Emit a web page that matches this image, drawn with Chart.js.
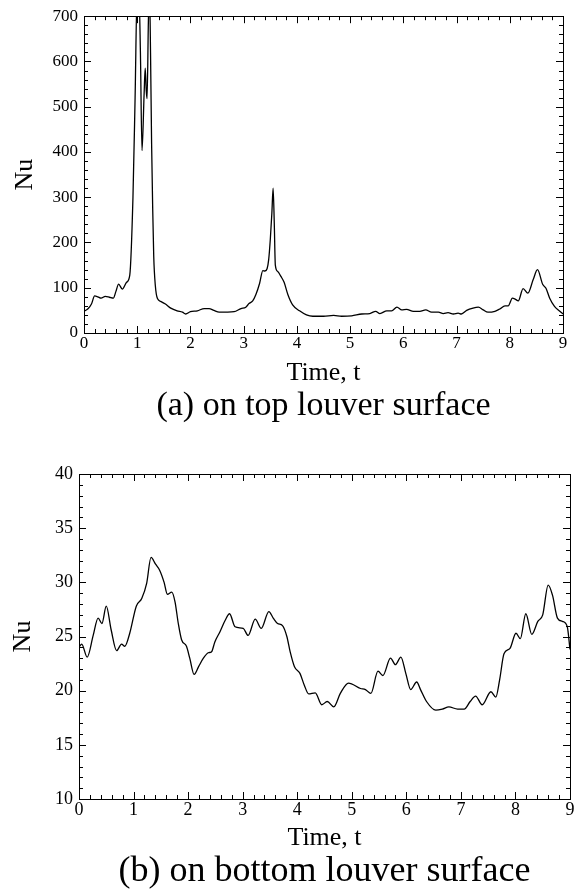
<!DOCTYPE html>
<html>
<head>
<meta charset="utf-8">
<script src="https://cdn.jsdelivr.net/npm/chart.js@4.4.1/dist/chart.umd.min.js"></script>
<style>
  body { margin: 0; background: #fff; }
  canvas { display: block; }
</style>
</head>
<body>
<canvas id="chartTop" width="577" height="440"></canvas>
<canvas id="chartBottom" width="577" height="451"></canvas>
<script>
// (a) top louver surface: time t and Nusselt number
const timeTop = [
  0, 0.08, 0.14, 0.2, 0.26, 0.32, 0.4, 0.48, 0.55, 0.6, 0.65, 0.72, 0.8, 0.86,
  0.92, 0.96, 1.0, 1.03, 1.06, 1.09, 1.13, 1.15, 1.17, 1.185, 1.21, 1.23, 1.25,
  1.27, 1.29, 1.31, 1.34, 1.38, 1.44, 1.53, 1.63, 1.75, 1.85, 1.91, 2.0, 2.13,
  2.26, 2.35, 2.44, 2.54, 2.7, 2.82, 2.95, 3.04, 3.1, 3.17, 3.23, 3.3, 3.36,
  3.4, 3.44, 3.47, 3.5, 3.53, 3.553, 3.575, 3.595, 3.64, 3.7, 3.76, 3.83, 3.92,
  4.05, 4.18, 4.3, 4.5, 4.69, 4.84, 5.03, 5.22, 5.37, 5.48, 5.56, 5.69, 5.78,
  5.88, 5.97, 6.06, 6.19, 6.31, 6.42, 6.53, 6.66, 6.75, 6.84, 6.94, 7.03, 7.09,
  7.19, 7.31, 7.41, 7.5, 7.59, 7.72, 7.81, 7.91, 7.97, 8.05, 8.1, 8.16, 8.25,
  8.34, 8.44, 8.52, 8.62, 8.68, 8.75, 8.84, 8.94, 9.0
]
const nuTop = [
  48, 54, 64, 82, 80, 77, 81, 79, 77, 92, 108, 97, 112, 128,
  300, 520, 760, 760, 620, 403, 530, 585, 535, 518, 690, 760, 620,
  420, 280, 170, 105, 76, 70, 64, 55, 49, 46, 42, 47, 49,
  54, 54, 50, 46, 46, 47, 54, 57, 65, 71, 85, 110, 138,
  137, 142, 162, 206, 265, 320, 243, 150, 136, 125, 112, 85, 62,
  49, 40, 37, 37, 39, 37, 38, 42, 43, 48, 43, 49, 49,
  57, 51, 52, 48, 48, 51, 46, 46, 43, 45, 42, 44, 42,
  50, 55, 57, 51, 46, 48, 53, 60, 60, 77, 75, 71, 98,
  88, 118, 140, 107, 99, 77, 59, 48, 42
]

// (b) bottom louver surface
const timeBottom = [
  0, 0.05, 0.15, 0.26, 0.35, 0.42, 0.5, 0.59, 0.69, 0.78, 0.84, 0.93, 1.05,
  1.15, 1.24, 1.32, 1.4, 1.48, 1.56, 1.62, 1.7, 1.76, 1.82, 1.88, 1.97, 2.03,
  2.11, 2.19, 2.28, 2.37, 2.43, 2.49, 2.58, 2.68, 2.76, 2.86, 3.01, 3.1, 3.23,
  3.34, 3.48, 3.56, 3.64, 3.73, 3.81, 3.87, 3.95, 4.05, 4.13, 4.21, 4.33, 4.45,
  4.55, 4.67, 4.79, 4.94, 5.16, 5.25, 5.35, 5.48, 5.57, 5.71, 5.8, 5.9, 5.99,
  6.08, 6.19, 6.26, 6.37, 6.54, 6.66, 6.78, 6.94, 7.06, 7.17, 7.27, 7.39, 7.55,
  7.64, 7.71, 7.79, 7.9, 8.01, 8.09, 8.19, 8.3, 8.41, 8.5, 8.6, 8.68, 8.77,
  8.86, 8.95, 9.0
]
const nuBottom = [
  24.0, 24.3, 23.1, 25.1, 26.7, 26.2, 27.8, 25.6, 23.7, 24.3, 24.1, 25.3, 27.8,
  28.5, 29.9, 32.3, 31.7, 31.1, 30.0, 28.9, 29.1, 28.2, 26.2, 24.7, 24.1, 23.0,
  21.5, 22.2, 23.0, 23.5, 23.6, 24.5, 25.4, 26.5, 27.1, 25.9, 25.75, 25.1, 26.6,
  25.75, 27.3, 26.7, 26.2, 26.0, 25.0, 23.6, 22.2, 21.6, 20.5, 19.7, 19.8, 18.7,
  19.0, 18.5, 19.75, 20.7, 20.2, 20.1, 19.75, 21.8, 21.4, 23.0, 22.4, 23.1, 21.6,
  20.1, 20.8, 20.1, 19.0, 18.2, 18.3, 18.5, 18.3, 18.3, 19.0, 19.5, 18.7, 19.9,
  19.4, 21.0, 23.4, 23.9, 25.3, 24.8, 27.1, 25.2, 26.4, 27.0, 29.75, 28.8, 26.7,
  26.4, 25.9, 23.8
]

// major tick values (labelled); minor ticks split each interval
const timeTicks = [0, 1, 2, 3, 4, 5, 6, 7, 8, 9]
const nuTicksTop = [0, 100, 200, 300, 400, 500, 600, 700]
const nuTicksBottom = [10, 15, 20, 25, 30, 35, 40]

const serif = "'Liberation Serif', 'Times New Roman', serif"

// inward ticks on all four sides plus the frame, like the original plot
const frameTicks = {
  id: 'frameTicks',
  afterDatasetsDraw (chart, args, opts) {
    const { ctx, chartArea: a, scales: { x, y } } = chart
    const major = 7
    const minor = 4
    const snap = v => Math.round(v) + 0.5
    ctx.save()
    ctx.strokeStyle = '#000'
    ctx.lineWidth = 1
    ctx.beginPath()
    const each = (ticks, n, fn) => {
      ticks.forEach((v, i) => {
        fn(v, major)
        if (i < ticks.length - 1) {
          const step = (ticks[i + 1] - v) / n
          for (let k = 1; k < n; k++) fn(v + k * step, minor)
        }
      })
    }
    each(opts.xTicks, opts.xSub, (v, len) => {
      const px = snap(x.getPixelForValue(v))
      ctx.moveTo(px, a.bottom); ctx.lineTo(px, a.bottom - len)
      ctx.moveTo(px, a.top); ctx.lineTo(px, a.top + len)
    })
    each(opts.yTicks, opts.ySub, (v, len) => {
      const py = snap(y.getPixelForValue(v))
      ctx.moveTo(a.left, py); ctx.lineTo(a.left + len, py)
      ctx.moveTo(a.right, py); ctx.lineTo(a.right - len, py)
    })
    ctx.stroke()
    ctx.strokeRect(snap(a.left), snap(a.top), Math.round(a.width), Math.round(a.height))
    ctx.restore()
  }
}

function makeChart (id, times, values, yTicks, ySub, cfg) {
  return new Chart(document.getElementById(id), {
    type: 'line',
    data: {
      datasets: [{
        data: times.map((t, i) => ({ x: t, y: values[i] })),
        borderColor: '#000',
        borderWidth: 1.3,
        pointRadius: 0,
        cubicInterpolationMode: 'monotone',
        fill: false
      }]
    },
    options: {
      responsive: false,
      animation: false,
      layout: { padding: cfg.padding },
      plugins: {
        legend: { display: false },
        tooltip: { enabled: false },
        title: {
          display: true,
          position: 'bottom',
          fullSize: false,
          text: cfg.caption,
          color: '#000',
          font: { family: serif, size: cfg.captionSize, weight: 'normal', lineHeight: 1.0 },
          padding: { top: 0, bottom: cfg.captionGap }
        },
        frameTicks: { xTicks: timeTicks, xSub: 5, yTicks, ySub }
      },
      scales: {
        x: {
          type: 'linear',
          min: 0,
          max: 9,
          afterBuildTicks: s => { s.ticks = timeTicks.map(v => ({ value: v })) },
          afterFit: s => { s.height = cfg.xHeight },
          grid: { display: false, drawTicks: false },
          border: { display: false },
          ticks: { color: '#000', padding: 0, font: { family: serif, size: cfg.tickSize } },
          title: {
            display: true,
            text: 'Time, t',
            color: '#000',
            font: { family: serif, size: 26 },
            padding: { top: 0, bottom: 0 }
          }
        },
        y: {
          type: 'linear',
          min: yTicks[0],
          max: yTicks[yTicks.length - 1],
          afterBuildTicks: s => { s.ticks = yTicks.map(v => ({ value: v })) },
          afterFit: s => { s.width = cfg.yWidth },
          grid: { display: false, drawTicks: false },
          border: { display: false },
          ticks: { color: '#000', padding: 6, font: { family: serif, size: cfg.tickSize } },
          title: {
            display: true,
            text: 'Nu',
            color: '#000',
            font: { family: serif, size: 26 },
            padding: { top: cfg.yTitleGap, bottom: 0 }
          }
        }
      }
    },
    plugins: [frameTicks]
  })
}

makeChart('chartTop', timeTop, nuTop, nuTicksTop, 5, {
  caption: '(a) on top louver surface',
  padding: { top: 16, right: 14, left: 0, bottom: 0 },
  yWidth: 84,
  xHeight: 56,
  yTitleGap: 10,
  captionSize: 34,
  captionGap: 17,
  tickSize: 17
})

makeChart('chartBottom', timeBottom, nuBottom, nuTicksBottom, 5, {
  caption: '(b) on bottom louver surface',
  padding: { top: 34, right: 7, left: 0, bottom: 0 },
  yWidth: 79,
  xHeight: 55,
  yTitleGap: 8,
  captionSize: 36,
  captionGap: 1,
  tickSize: 18
})
</script>
</body>
</html>
